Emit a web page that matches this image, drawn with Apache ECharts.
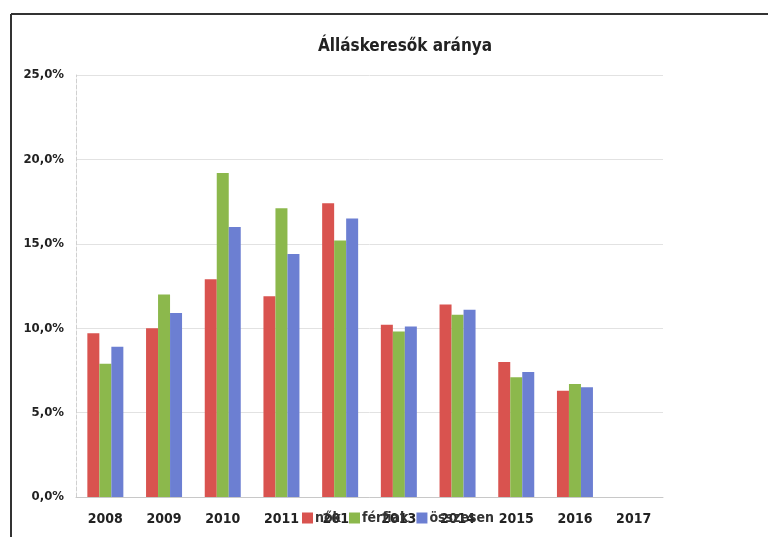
<!DOCTYPE html>
<html>
<head>
<meta charset="utf-8">
<script src="https://cdn.jsdelivr.net/npm/echarts@6/dist/echarts.min.js"></script>
<style>
html, body { margin: 0; padding: 0; background: #fff; }
#chart { width: 768px; height: 537px; }
</style>
</head>
<body>
<div id="chart"></div>
<script>
// adatok
var years = ['2008', '2009', '2010', '2011', '2012', '2013', '2014', '2015', '2016', '2017'];
var nok = [9.7, 10.0, 12.9, 11.9, 17.4, 10.2, 11.4, 8.0, 6.3, null];
var ferfiak = [7.9, 12.0, 19.2, 17.1, 15.2, 9.8, 10.8, 7.1, 6.7, null];
var osszesen = [8.9, 10.9, 16.0, 14.4, 16.5, 10.1, 11.1, 7.4, 6.5, null];
var seriesNames = ['nők', 'férfiak', 'összesen'];

var FONT = 'DejaVu Sans Condensed';

var myChart = echarts.init(document.getElementById('chart'));

var option = {
    backgroundColor: '#fff',
    color: ['#d9534f', '#8cb84c', '#6c7fd2'],
    title: {
        text: 'Álláskeresők aránya',
        left: 400,
        textAlign: 'center',
        top: 33,
        textStyle: { fontFamily: FONT, fontSize: 17, fontWeight: 'bold', color: '#222' }
    },
    legend: {
        data: seriesNames,
        left: 297,
        top: 506,
        itemWidth: 11,
        itemHeight: 11,
        itemGap: 8,
        icon: 'rect',
        textStyle: { fontFamily: FONT, fontSize: 14, fontWeight: 'bold', color: '#333', padding: [0, 0, 0, -3] }
    },
    grid: { left: 76, right: 105, top: 75, bottom: 40, containLabel: false },
    xAxis: {
        type: 'category',
        data: years,
        axisLine: { lineStyle: { color: '#c8c8c8' } },
        axisTick: { show: false },
        axisLabel: { fontFamily: FONT, fontSize: 14, fontWeight: 'bold', color: '#222', margin: 15 }
    },
    yAxis: {
        type: 'value',
        min: 0,
        max: 25,
        interval: 5,
        axisLine: { show: true, lineStyle: { color: '#d0d0d0', type: 'dashed' } },
        axisTick: { show: false },
        splitLine: { lineStyle: { color: '#e2e2e2' } },
        axisLabel: {
            fontFamily: FONT, fontSize: 13, fontWeight: 'bold', color: '#222', margin: 12,
            formatter: function (v) { return v.toFixed(1).replace('.', ',') + '%'; }
        }
    },
    series: [
        { name: seriesNames[0], type: 'bar', data: nok, barWidth: 12, barGap: '0%' },
        { name: seriesNames[1], type: 'bar', data: ferfiak, barWidth: 12, barGap: '0%' },
        { name: seriesNames[2], type: 'bar', data: osszesen, barWidth: 12, barGap: '0%' }
    ],
    graphic: [
        // a szkennelt keret vonalai
        { type: 'line', shape: { x1: 11, y1: 14, x2: 11, y2: 537 }, style: { stroke: '#333', lineWidth: 2 } },
        { type: 'line', shape: { x1: 11, y1: 14, x2: 768, y2: 14 }, style: { stroke: '#333', lineWidth: 2 } }
    ]
};

myChart.setOption(option);
</script>
</body>
</html>
